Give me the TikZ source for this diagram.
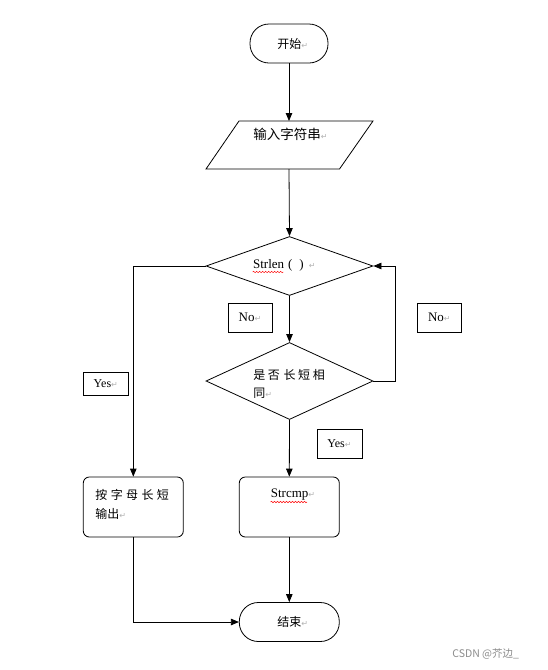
\documentclass[tikz,border=0pt]{standalone}
\usepackage{fontspec}
\setmainfont{Liberation Serif}
\newfontfamily\cjk{Noto Sans CJK SC}
\newfontfamily\symf{DejaVu Sans}
\usetikzlibrary{shapes.geometric,arrows.meta,decorations.pathmorphing}
\newcommand{\pmark}{{\symf\color{black!30}\fontsize{8}{8}\selectfont ↵}}
\newcommand{\ls}{\hspace{2.6pt}}
\begin{document}
\begin{tikzpicture}[x=1pt,y=-1pt, line width=0.8pt,
  arr/.style={-{Triangle[length=8pt,width=6.5pt]}},
  term/.style={draw, rounded corners=19pt, minimum height=39pt, inner sep=0pt},
  procbox/.style={draw, rounded corners=6pt, minimum width=100pt, minimum height=60pt, inner sep=0pt},
  dec/.style={draw, diamond, minimum width=167pt, inner sep=0pt},
  lblbox/.style={draw, line width=0.6pt, inner sep=0pt, minimum width=44pt},
  txt/.style={anchor=west, inner sep=0pt},
  wavy/.style={draw=red, line width=0.5pt, decorate, decoration={snake, segment length=3pt, amplitude=0.7pt}}
]
\useasboundingbox[fill=white] (0,0) rectangle (548,670);

% shapes
\node[term, minimum width=78pt] (s) at (289,43.5) {};
\draw (239,121) -- (373,121) -- (339.5,169) -- (206,169) -- cycle;
\coordinate (ptop) at (289,121);
\coordinate (pbot) at (289,169);
\node[dec, minimum height=59pt] (d1) at (289.5,266) {};
\node[dec, minimum height=77pt] (d2) at (289.5,381) {};
\node[procbox] (b1) at (133.3,507) {};
\node[procbox] (b2) at (289.3,507) {};
\node[term, minimum width=100pt] (e) at (289.3,622) {};

% label boxes
\node[lblbox, minimum height=29pt] (no1) at (250,317.5) {\fontsize{13}{13}\selectfont No\pmark};
\node[lblbox, minimum height=29pt] (no2) at (439.3,317.5) {\fontsize{13}{13}\selectfont No\pmark};
\node[lblbox, minimum width=45pt, minimum height=23pt] (y1) at (105.8,383.5) {\fontsize{12}{12}\selectfont Yes\pmark};
\node[lblbox, minimum width=45pt, minimum height=29pt] (y2) at (339.5,443.8) {\fontsize{12}{12}\selectfont Yes\pmark};

% texts
\node[txt] (t1) at (277,44) {\cjk\fontsize{12}{12}\selectfont 开始\pmark};
\node[txt] (t2) at (253,134) {\cjk\fontsize{13.5}{13.5}\selectfont 输入字符串\pmark};
\node[txt] (t3) at (252.7,265) {\fontsize{13}{13}\selectfont Strlen\hspace{4pt}(\hspace{7pt})\hspace{5pt}\pmark};
\node[txt] (t4) at (253,375) {\cjk\fontsize{12}{12}\selectfont 是\ls 否\ls\hspace{1pt}长\ls 短\ls 相};
\node[txt] (t5) at (253,393) {\cjk\fontsize{12}{12}\selectfont 同\pmark};
\node[txt] (t6) at (95,495) {\cjk\fontsize{12}{12}\selectfont 按\ls\hspace{0.8pt}字\ls\hspace{0.8pt}母\ls\hspace{0.8pt}长\ls\hspace{0.8pt}短};
\node[txt] (t7) at (95,514) {\cjk\fontsize{12}{12}\selectfont 输出\pmark};
\node[txt] (t8) at (270.5,495) {\fontsize{13}{13}\selectfont Strcmp\pmark};
\node[txt] (t9) at (277,622) {\cjk\fontsize{12}{12}\selectfont 结束\pmark};
\node[txt, text=black!45] (wm) at (452,654) {\cjk\fontsize{10.5}{10.5}\selectfont CSDN @芥边\_};

% spell-check underlines
\draw[wavy] (252.7,272) -- (283.3,272);
\draw[wavy] (270.5,502) -- (307,502);

% connectors
\draw[arr] (s.south) -- (ptop);
\draw[arr] (pbot) -- (d1.north);
\draw[arr] (d1.south) -- (d2.north);
\draw[arr] (d2.east) -- ++(21.5,0) |- (d1.east);
\draw[arr] (d1.west) -| (b1.north);
\draw[arr] (d2.south) -- (b2.north);
\draw[arr] (b2.south) -- (e.north);
\draw[arr] (b1.south) |- (e.west);
\end{tikzpicture}
\end{document}
